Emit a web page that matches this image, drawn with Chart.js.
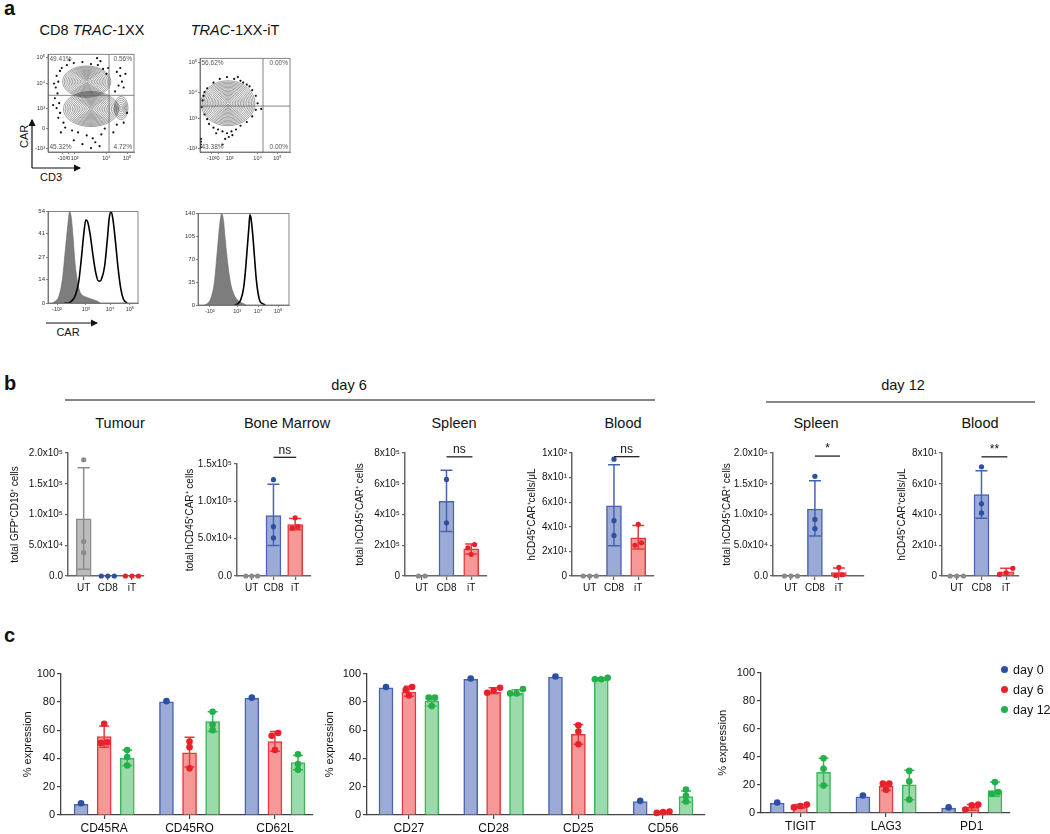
<!DOCTYPE html>
<html lang="en">
<head>
<meta charset="UTF-8">
<title>CAR T figure</title>
<script src="https://cdn.jsdelivr.net/npm/chart.js"></script>
<style>
  body { margin: 0; width: 1050px; height: 834px; background: #fff; position: relative; overflow: hidden;
         font-family: 'Liberation Sans', Arial, sans-serif; color: #111; }
  .t { position: absolute; white-space: nowrap; line-height: 1; }
  .dot { position: absolute; width: 7px; height: 7px; border-radius: 50%; }
</style>
</head>
<body>

<svg width="1050" height="834" style="position:absolute;left:0;top:0">
  <defs>
    <marker id="ah" markerWidth="6" markerHeight="6" refX="5" refY="3" orient="auto">
      <path d="M0,0 L6,3 L0,6 z" fill="#111"/>
    </marker>
  </defs>
  <line x1="32" y1="168" x2="32" y2="120" stroke="#111" stroke-width="1.2" marker-end="url(#ah)"/>
  <line x1="32" y1="168" x2="80" y2="168" stroke="#111" stroke-width="1.2" marker-end="url(#ah)"/>
  <line x1="46" y1="323" x2="97" y2="323" stroke="#111" stroke-width="1.2" marker-end="url(#ah)"/>
  <line x1="65" y1="400" x2="655" y2="400" stroke="#111" stroke-width="1"/>
  <line x1="766" y1="402" x2="1035" y2="402" stroke="#111" stroke-width="1"/>
</svg>

<script>
// ---------- panel a: flow plots ----------
const flow1XTicks = [17, 24, 31, 68, 92];
const flow1XLabels = ['-10³', '0', '10³', '10⁴', '10⁵'];
const flow1YTicks = [4, 24, 45, 70, 97];
const flow1YLabels = ['-10³', '0', '10³', '10⁴', '10⁵'];
const flow1Gate = [71, 58];
const flow1Pct = ['49.41%', '0.56%', '45.32%', '4.72%'];
const flow1Pops = [[45, 72, 28, 16, 15], [50, 44, 32, 18, 16], [85, 45, 8, 12, 6]];
const flow1Dots = [[10,78],[12,72],[9,66],[11,60],[8,55],[13,50],[10,45],[14,40],[12,35],[18,30],[16,86],[22,89],
  [30,91],[40,92],[50,90],[58,89],[64,85],[68,80],[20,25],[28,22],[35,20],[45,17],[52,14],[55,10],[60,6],[62,18],
  [66,24],[80,82],[84,78],[86,72],[82,68],[88,66],[84,86],[90,80],[78,62],[92,40],[88,30],[80,28],[76,20],[50,4],
  [40,8],[30,12],[15,20],[6,48],[25,94],[57,96],[61,93],[14,83],[7,70],[70,86]];

const flow2XTicks = [13, 20, 33, 64, 86];
const flow2XLabels = ['-10³', '0', '10³', '10⁴', '10⁵'];
const flow2YTicks = [4, 36, 63, 96];
const flow2YLabels = ['-10³', '10³', '10⁴', '10⁵'];
const flow2Gate = [70, 49];
const flow2Pct = ['56.62%', '0.00%', '43.38%', '0.00%'];
const flow2Pops = [[31, 52, 30, 24, 17]];
const flow2Dots = [[3,55],[4,60],[2,48],[5,40],[8,35],[10,30],[15,26],[20,24],[25,22],[30,20],[35,22],[40,24],
  [45,28],[52,32],[58,38],[62,45],[64,52],[62,60],[58,66],[52,72],[45,76],[38,78],[30,80],[22,78],[15,74],[8,68],
  [5,64],[68,46],[28,14],[25,8],[32,16],[36,18],[1,8],[1,11],[1,14],[1,5],[42,80],[48,74],[55,70],[18,20]];

// ---------- panel a: histograms ----------
const hist1XTicks = [10, 42, 69, 91];
const hist1XLabels = ['-10²', '10³', '10⁴', '10⁵'];
const hist1YTicks = [0, 14, 27, 41, 54];
const hist1GrayX = [5, 8, 12, 16, 19, 22, 24, 26, 28, 30, 33, 36, 40, 45, 50, 55, 58];
const hist1GrayY = [0, 1, 4, 14, 30, 46, 54, 50, 38, 24, 12, 6, 4, 3, 2, 1, 0];
const hist1LineX = [18, 22, 26, 30, 34, 37, 40, 42, 44, 47, 50, 53, 56, 58, 60, 63, 66, 68, 70, 72, 75, 78, 81, 84, 88];
const hist1LineY = [0, 0, 1, 4, 12, 26, 42, 49, 48, 40, 28, 18, 13, 13, 15, 22, 38, 50, 54, 50, 36, 20, 8, 2, 0];

const hist2XTicks = [13, 43, 66, 88];
const hist2XLabels = ['-10²', '10³', '10⁴', '10⁵'];
const hist2YTicks = [0, 35, 70, 105, 140];
const hist2GrayX = [7, 10, 14, 18, 21, 24, 26, 28, 30, 33, 36, 39, 42, 46, 50, 53];
const hist2GrayY = [0, 2, 10, 35, 80, 125, 140, 130, 100, 60, 32, 18, 10, 5, 2, 0];
const hist2LineX = [40, 44, 47, 50, 52, 54, 56, 57, 58, 60, 62, 64, 66, 68, 71, 74];
const hist2LineY = [0, 2, 8, 25, 50, 85, 120, 138, 135, 110, 75, 40, 18, 6, 2, 0];

// ---------- panel b ----------
const groupLabels = ['UT', 'CD8', 'iT'];

const tumourMeans = [0.93e5, null, null];
const tumourPoints = [[1.89e5, 0.56e5, 0.38e5], [0, 0, 0], [0, 0, 0]];
const tumourErr = [[0.11e5, 1.76e5], null, null];
const tumourTicks = ['0.0', '5.0x10⁴', '1.0x10⁵', '1.5x10⁵', '2.0x10⁵'];

const marrowMeans = [null, 0.81e5, 0.69e5];
const marrowPoints = [[0, 0, 0], [1.29e5, 0.66e5, 0.51e5], [0.78e5, 0.66e5, 0.64e5]];
const marrowErr = [null, [0.41e5, 1.23e5], [0.62e5, 0.77e5]];
const marrowTicks = ['0.0', '5.0x10⁴', '1.0x10⁵', '1.5x10⁵'];

const spleen6Means = [null, 4.85e5, 1.76e5];
const spleen6Points = [[0, 0], [6.28e5, 3.46e5], [2.05e5, 1.83e5, 1.41e5]];
const spleen6Err = [null, [2.9e5, 6.87e5], [1.43e5, 2.08e5]];
const spleen6Ticks = ['0', '2x10⁵', '4x10⁵', '6x10⁵', '8x10⁵'];

const blood6Means = [null, 57, 31];
const blood6Points = [[0, 0, 0], [95, 45, 33], [42, 27, 25]];
const blood6Err = [null, [24.5, 90.4], [22, 41]];
const blood6Ticks = ['0', '2x10¹', '4x10¹', '6x10¹', '8x10¹', '1x10²'];

const spleen12Means = [null, 1.09e5, 0.055e5];
const spleen12Points = [[0, 0, 0], [1.62e5, 0.92e5, 0.77e5], [0.14e5, 0.02e5, 0.01e5]];
const spleen12Err = [null, [0.65e5, 1.55e5], [0, 0.13e5]];
const spleen12Ticks = ['0.0', '5.0x10⁴', '1.0x10⁵', '1.5x10⁵', '2.0x10⁵'];

const blood12Means = [null, 53, 2.7];
const blood12Points = [[0, 0, 0], [71, 47, 41], [5, 2, 1]];
const blood12Err = [null, [37.5, 68.5], [0.5, 5]];
const blood12Ticks = ['0', '2x10¹', '4x10¹', '6x10¹', '8x10¹'];

// ---------- panel c ----------
const memMarkers = ['CD45RA', 'CD45RO', 'CD62L'];
const memDay0 = [7.5, 80, 82.5];
const memDay0Pts = [[8.3], [80.5], [83]];
const memDay6 = [55.5, 44, 52];
const memDay6Pts = [[64.5, 51.5, 51], [52, 48, 33], [58, 56, 46]];
const memDay6Err = [[48, 63], [34, 55], [45, 59]];
const memDay12 = [40, 66, 37];
const memDay12Pts = [[46, 41, 35], [73, 64, 60], [43, 36, 32]];
const memDay12Err = [[35, 46], [59, 73], [32, 42]];

const actMarkers = ['CD27', 'CD28', 'CD25', 'CD56'];
const actDay0 = [90, 96, 97.5, 9.5];
const actDay0Pts = [[90.5], [96.5], [98], [10]];
const actDay6 = [87, 87, 57, 2];
const actDay6Pts = [[90.5, 88.5, 84.5], [90, 88, 86.5], [63.5, 59, 50], [2.5, 1.5, 2]];
const actDay6Err = [[84, 91], [86, 90], [50, 64], [1.5, 2.5]];
const actDay12 = [80.5, 86, 96, 13];
const actDay12Pts = [[83, 83, 77], [89, 86, 86], [97, 96, 96], [18, 13.5, 9.5]];
const actDay12Err = [[77, 84], [85, 88.5], [95.5, 97], [9, 17]];

const exhMarkers = ['TIGIT', 'LAG3', 'PD1'];
const exhDay0 = [7, 11.5, 3.5];
const exhDay0Pts = [[7.5], [12.5], [4]];
const exhDay6 = [4.5, 19, 4];
const exhDay6Pts = [[6, 5, 4], [21, 21, 16.5], [6, 5.5, 2.5]];
const exhDay6Err = [[3.5, 6], [16, 21.5], [2, 6]];
const exhDay12 = [29, 20, 16];
const exhDay12Pts = [[39, 31.5, 19.5], [30, 22.5, 9.5], [22, 15, 13.5]];
const exhDay12Err = [[19.5, 39], [9.5, 30.5], [12, 22]];

const dayLabels = ['day 0', 'day 6', 'day 12'];

// ---------- styles ----------
const FONT = "'Liberation Sans', Arial, sans-serif";
const fillB = ['rgb(188,188,188)', 'rgb(155,170,215)', 'rgb(246,152,152)'];
const lineB = ['#8c8c8c', '#4863b0', '#e8373a'];
const ptB = ['#8a8a8a', '#2b4fa3', '#e8202a'];
const dayFill = ['rgb(155,170,215)', 'rgb(246,152,152)', 'rgb(155,218,170)'];
const dayLine = ['#4863b0', '#e8373a', '#3cb55a'];
const dayPt = ['#2b4fa3', '#e8202a', '#22b04b'];
const GROUP_GAP = 3.7;

Chart.defaults.font.family = FONT;
Chart.defaults.color = '#111';
Chart.defaults.animation = false;
Chart.defaults.events = [];
Chart.defaults.plugins.legend.display = false;
Chart.defaults.plugins.tooltip.enabled = false;

function addCanvas(left, top, w, h) {
  const c = document.createElement('canvas');
  c.width = w; c.height = h;
  c.style.cssText = `position:absolute;left:${left}px;top:${top}px;width:${w}px;height:${h}px`;
  document.body.appendChild(c);
  return c.getContext('2d');
}

function txt(html, x, base, size, opts = {}) {
  const d = document.createElement('div');
  d.className = 't';
  d.innerHTML = html;
  d.style.fontSize = size + 'px';
  d.style.top = (base - 0.845 * size) + 'px';
  d.style.left = x + 'px';
  if (opts.bold) d.style.fontWeight = 'bold';
  if (opts.center) d.style.transform = 'translateX(-50%)';
  document.body.appendChild(d);
  return d;
}

// points with near-equal values sit side by side, like a scatter dot plot
function spread(vals, thr, step) {
  const idx = vals.map((v, i) => i).sort((a, b) => vals[a] - vals[b]);
  const offs = vals.map(() => 0);
  let cur = [idx[0]];
  const flush = () => cur.forEach((k, j) => { offs[k] = (j - (cur.length - 1) / 2) * step; });
  for (let k = 1; k < idx.length; k++) {
    if (vals[idx[k]] - vals[idx[k - 1]] < thr) cur.push(idx[k]);
    else { flush(); cur = [idx[k]]; }
  }
  flush();
  return offs;
}

// ---------- plugins ----------
const errorBars = {
  id: 'errorBars',
  afterDatasetDraw(chart, args, opts) {
    const ds = chart.data.datasets[args.index];
    if (!ds.err) return;
    const { ctx, scales: { x, y } } = chart;
    const c = opts.cap / 2;
    ctx.save();
    ctx.lineWidth = 1.5;
    ds.err.forEach((e, i) => {
      if (!e) return;
      const px = x.getPixelForValue(ds.data[i].x);
      const lo = y.getPixelForValue(e[0]), hi = y.getPixelForValue(e[1]);
      ctx.strokeStyle = Array.isArray(ds.borderColor) ? ds.borderColor[i] : ds.borderColor;
      ctx.beginPath();
      ctx.moveTo(px, lo); ctx.lineTo(px, hi);
      ctx.moveTo(px - c, hi); ctx.lineTo(px + c, hi);
      ctx.moveTo(px - c, lo); ctx.lineTo(px + c, lo);
      ctx.stroke();
    });
    ctx.restore();
  }
};

const sigBracket = {
  id: 'sig',
  afterDraw(chart, args, opts) {
    if (!opts.text) return;
    const { ctx, scales: { x, y } } = chart;
    const x1 = x.getPixelForValue(1), x2 = x.getPixelForValue(2.05), py = y.getPixelForValue(opts.y);
    ctx.save();
    ctx.strokeStyle = '#111'; ctx.lineWidth = 1.2;
    ctx.beginPath(); ctx.moveTo(x1, py); ctx.lineTo(x2, py); ctx.stroke();
    ctx.fillStyle = '#111';
    ctx.font = `12px ${FONT}`;
    ctx.textAlign = 'center'; ctx.textBaseline = 'bottom';
    ctx.fillText(opts.text, (x1 + x2) / 2, py - 1);
    ctx.restore();
  }
};

const flowDecor = {
  id: 'flowDecor',
  beforeDatasetsDraw(chart, args, o) {
    if (!o.pops) return;
    const { ctx, scales: { x, y }, chartArea: a } = chart;
    ctx.save();
    ctx.beginPath(); ctx.rect(a.left, a.top, a.width, a.height); ctx.clip();
    ctx.strokeStyle = 'rgba(40,40,40,0.8)'; ctx.lineWidth = 0.55;
    o.pops.forEach(([cx, cy, rx, ry, n]) => {
      const px = x.getPixelForValue(cx), py = y.getPixelForValue(cy);
      const sx = Math.abs(x.getPixelForValue(cx + rx) - px), sy = Math.abs(y.getPixelForValue(cy + ry) - py);
      for (let k = 1; k <= n; k++) {
        const f = k / n;
        ctx.beginPath(); ctx.ellipse(px, py, sx * f, sy * f, 0, 0, Math.PI * 2); ctx.stroke();
      }
    });
    ctx.restore();
  },
  afterDatasetsDraw(chart, args, o) {
    const { ctx, scales: { x, y }, chartArea: a } = chart;
    ctx.save();
    ctx.strokeStyle = '#666'; ctx.lineWidth = 0.8;
    ctx.strokeRect(a.left, a.top, a.width, a.height);
    if (o.gate) {
      const gx = x.getPixelForValue(o.gate[0]), gy = y.getPixelForValue(o.gate[1]);
      ctx.beginPath();
      ctx.moveTo(gx, a.top); ctx.lineTo(gx, a.bottom);
      ctx.moveTo(a.left, gy); ctx.lineTo(a.right, gy);
      ctx.stroke();
      ctx.fillStyle = '#555';
      ctx.font = `6.5px ${FONT}`;
      ctx.textBaseline = 'top'; ctx.textAlign = 'left';
      ctx.fillText(o.pct[0], a.left + 1.5, a.top + 2);
      ctx.textAlign = 'right';
      ctx.fillText(o.pct[1], a.right - 2, a.top + 2);
      ctx.textBaseline = 'bottom'; ctx.textAlign = 'left';
      ctx.fillText(o.pct[2], a.left + 1.5, a.bottom - 2);
      ctx.textAlign = 'right';
      ctx.fillText(o.pct[3], a.right - 2, a.bottom - 2);
    }
    ctx.restore();
  }
};

// ---------- panel a builders ----------
function smallAxis(ticks, labels, max, size) {
  return {
    type: 'linear', min: 0, max: max, bounds: 'data', offset: false,
    afterBuildTicks: s => { s.ticks = ticks.map(v => ({ value: v })); },
    afterFit: s => { if (s.isHorizontal()) s.height = size; else s.width = size; },
    ticks: { autoSkip: false, maxRotation: 0, padding: 1, font: { size: 5.5 }, color: '#333',
             callback: (v, i) => labels[i] },
    grid: { display: true, drawOnChartArea: false, tickLength: 2, color: '#666', lineWidth: 0.8, offset: false },
    border: { display: true, color: '#666', width: 0.8 }
  };
}

function flowPlot(o) {
  const yw = 16, xh = 12, pt = 3, pr = 3;
  const ctx = addCanvas(o.left - yw, o.top - pt, yw + o.w + pr, pt + o.h + xh);
  new Chart(ctx, {
    type: 'scatter',
    data: { datasets: [{ data: o.dots.map(([x, y]) => ({ x, y })), pointRadius: 1.1,
                         pointBackgroundColor: '#111', pointBorderWidth: 0 }] },
    options: {
      responsive: false,
      layout: { padding: { top: pt, right: pr, left: 0, bottom: 0 } },
      scales: { x: smallAxis(o.xt, o.xl, 100, xh), y: smallAxis(o.yt, o.yl, 100, yw) },
      plugins: { flowDecor: { pops: o.pops, gate: o.gate, pct: o.pct } }
    },
    plugins: [flowDecor]
  });
}

function histPlot(o) {
  const yw = 16, xh = 12, pt = 3, pr = 3;
  const ctx = addCanvas(o.left - yw, o.top - pt, yw + o.w + pr, pt + o.h + xh);
  const yMax = o.yt[o.yt.length - 1];
  new Chart(ctx, {
    type: 'line',
    data: { datasets: [
      { order: 0, data: o.lineX.map((x, i) => ({ x, y: o.lineY[i] })), borderColor: '#000', borderWidth: 1.6,
        pointRadius: 0, fill: false, cubicInterpolationMode: 'monotone' },
      { order: 1, data: o.grayX.map((x, i) => ({ x, y: o.grayY[i] })), borderColor: '#6a6a6a', borderWidth: 0.6,
        backgroundColor: '#7d7d7d', pointRadius: 0, fill: 'origin', cubicInterpolationMode: 'monotone' }
    ] },
    options: {
      responsive: false,
      layout: { padding: { top: pt, right: pr, left: 0, bottom: 0 } },
      scales: {
        x: smallAxis(o.xt, o.xl, 100, xh),
        y: Object.assign(smallAxis(o.yt, o.yt.map(String), yMax, yw), { ticks: { autoSkip: false, padding: 1,
             font: { size: 6 }, color: '#333', callback: (v, i) => String(o.yt[i]) } })
      },
      plugins: { flowDecor: {} }
    },
    plugins: [flowDecor]
  });
}

// ---------- panel b builder ----------
function panelB(p) {
  const padTop = 30, xh = 22, padR = 3;
  const w = p.yw + (p.endX - p.axisX) + padR;
  const h = padTop + (p.zeroY - p.topY) + xh;
  const ctx = addCanvas(p.axisX - p.yw, p.topY - padTop, w, h);
  const datasets = [];
  p.points.forEach((vals, g) => {
    const offs = spread(vals, p.yMax * 0.05, 0.27);
    datasets.push({ type: 'scatter', order: 0, clip: false,
      data: vals.map((v, i) => ({ x: g + offs[i], y: v })),
      pointRadius: 2.6, pointBackgroundColor: ptB[g], pointBorderWidth: 0 });
  });
  datasets.push({ type: 'bar', order: 1, grouped: false, barThickness: 15,
    data: p.means.map((m, g) => ({ x: g, y: m })), err: p.err,
    backgroundColor: fillB, borderColor: lineB, borderWidth: 1.5 });
  const axisCol = '#666';
  new Chart(ctx, {
    type: 'bar',
    data: { datasets },
    options: {
      responsive: false,
      layout: { padding: { top: padTop, right: padR, left: 0, bottom: 0 } },
      scales: {
        x: { type: 'linear', min: p.xMin, max: p.xMax, bounds: 'data', offset: false,
             afterBuildTicks: s => { s.ticks = [0, 1, 2].map(v => ({ value: v })); },
             afterFit: s => { s.height = xh; },
             ticks: { autoSkip: false, maxRotation: 0, padding: 2, font: { size: 10 }, callback: (v, i) => groupLabels[i] },
             grid: { display: true, drawOnChartArea: false, tickLength: 4, color: axisCol, lineWidth: 1.2, offset: false },
             border: { display: true, color: axisCol, width: 1.5 } },
        y: { type: 'linear', min: 0, max: p.yMax, bounds: 'data',
             afterBuildTicks: s => { s.ticks = p.ticks.map((t, i) => ({ value: i * p.yMax / (p.ticks.length - 1) })); },
             afterFit: s => { s.width = p.yw; },
             ticks: { padding: 2, font: { size: 10 }, callback: (v, i) => p.ticks[i] },
             title: { display: true, text: p.title, font: { size: 10 }, padding: { top: 4, bottom: 0 } },
             grid: { display: true, drawOnChartArea: false, tickLength: 3, color: axisCol, lineWidth: 1.2 },
             border: { display: true, color: axisCol, width: 1.5 } }
      },
      plugins: { errorBars: { cap: 12 }, sig: p.sig ? { y: p.sig[0], text: p.sig[1] } : { text: '' } }
    },
    plugins: [errorBars, sigBracket]
  });
}

// ---------- panel c builder ----------
function panelC(p) {
  const padTop = 8, xh = 22, padR = 4;
  const w = p.yw + (p.endX - p.axisX) + padR;
  const h = padTop + (p.zeroY - p.topY) + xh;
  const ctx = addCanvas(p.axisX - p.yw, p.topY - padTop, w, h);
  const centers = p.markers.map((m, g) => g * GROUP_GAP);
  const datasets = [];
  p.days.forEach(([means, pts, err], d) => {
    const data = [];
    pts.forEach((vals, g) => {
      const offs = spread(vals, 4, 0.28);
      vals.forEach((v, i) => data.push({ x: centers[g] + d - 1 + offs[i], y: v }));
    });
    datasets.push({ type: 'scatter', order: 0, clip: false, data,
      pointRadius: 3.3, pointBackgroundColor: dayPt[d], pointBorderWidth: 0 });
    datasets.push({ type: 'bar', order: 1, grouped: false, barThickness: 14,
      data: means.map((m, g) => ({ x: centers[g] + d - 1, y: m })), err,
      backgroundColor: dayFill[d], borderColor: dayLine[d], borderWidth: 1.5 });
  });
  const axisCol = '#444';
  new Chart(ctx, {
    type: 'bar',
    data: { datasets },
    options: {
      responsive: false,
      layout: { padding: { top: padTop, right: padR, left: 0, bottom: 0 } },
      scales: {
        x: { type: 'linear', min: p.xMin, max: p.xMax, bounds: 'data', offset: false,
             afterBuildTicks: s => { s.ticks = centers.map(v => ({ value: v })); },
             afterFit: s => { s.height = xh; },
             ticks: { autoSkip: false, maxRotation: 0, padding: 2, font: { size: 12 }, callback: (v, i) => p.markers[i] },
             grid: { display: true, drawOnChartArea: false, tickLength: 4, color: axisCol, lineWidth: 1.2, offset: false },
             border: { display: true, color: axisCol, width: 1.3 } },
        y: { type: 'linear', min: 0, max: 100, bounds: 'data',
             ticks: { stepSize: 20, padding: 2, font: { size: 11 } },
             afterFit: s => { s.width = p.yw; },
             title: { display: true, text: '% expression', font: { size: 11 }, padding: { top: 4, bottom: 0 } },
             grid: { display: true, drawOnChartArea: false, tickLength: 4, color: axisCol, lineWidth: 1.2 },
             border: { display: true, color: axisCol, width: 1.3 } }
      },
      plugins: { errorBars: { cap: 10 } }
    },
    plugins: [errorBars]
  });
}

// ---------- panel a ----------
txt('a', 4, 15, 20, { bold: true });
txt('CD8 <i>TRAC</i>-1XX', 92, 35, 14.5, { center: true });
txt('<i>TRAC</i>-1XX-iT', 235, 35, 14.5, { center: true });
const car = txt('CAR', 23, 141, 11, {});
car.style.transform = 'translate(-50%,0) rotate(-90deg)';
car.style.transformOrigin = '50% 40%';
txt('CD3', 40, 181, 11);
txt('CAR', 68, 336, 11, { center: true });

flowPlot({ left: 48, top: 53, w: 87, h: 99, xt: flow1XTicks, xl: flow1XLabels, yt: flow1YTicks, yl: flow1YLabels,
           gate: flow1Gate, pct: flow1Pct, pops: flow1Pops, dots: flow1Dots });
flowPlot({ left: 200, top: 57, w: 91, h: 95, xt: flow2XTicks, xl: flow2XLabels, yt: flow2YTicks, yl: flow2YLabels,
           gate: flow2Gate, pct: flow2Pct, pops: flow2Pops, dots: flow2Dots });
histPlot({ left: 48, top: 210, w: 90, h: 93, xt: hist1XTicks, xl: hist1XLabels, yt: hist1YTicks,
           grayX: hist1GrayX, grayY: hist1GrayY, lineX: hist1LineX, lineY: hist1LineY });
histPlot({ left: 198, top: 212, w: 91, h: 93, xt: hist2XTicks, xl: hist2XLabels, yt: hist2YTicks,
           grayX: hist2GrayX, grayY: hist2GrayY, lineX: hist2LineX, lineY: hist2LineY });

// ---------- panel b ----------
txt('b', 4, 390, 20, { bold: true });
txt('day 6', 349, 390, 14.5, { center: true });
txt('day 12', 903, 390, 14.5, { center: true });
[['Tumour', 120], ['Bone Marrow', 287], ['Spleen', 454], ['Blood', 623], ['Spleen', 816], ['Blood', 980]]
  .forEach(([s, x]) => txt(s, x, 428, 14.5, { center: true }));

const cellsTitle = 'total hCD45⁺CAR⁺ cells';
const bloodTitle = 'hCD45⁺CAR⁺cells/μL';
panelB({ axisX: 68, endX: 145, topY: 453, zeroY: 576, yw: 63, xMin: -0.65, xMax: 2.5, yMax: 2e5,
         ticks: tumourTicks, title: 'total GFP⁺CD19⁺ cells', means: tumourMeans, points: tumourPoints, err: tumourErr });
panelB({ axisX: 237, endX: 312, topY: 464, zeroY: 576, yw: 57, xMin: -0.68, xMax: 2.73, yMax: 1.5e5,
         ticks: marrowTicks, title: cellsTitle, means: marrowMeans, points: marrowPoints, err: marrowErr, sig: [1.59e5, 'ns'] });
panelB({ axisX: 405, endX: 488, topY: 453, zeroY: 576, yw: 55, xMin: -0.68, xMax: 2.64, yMax: 8e5,
         ticks: spleen6Ticks, title: cellsTitle, means: spleen6Means, points: spleen6Points, err: spleen6Err, sig: [7.75e5, 'ns'] });
panelB({ axisX: 572, endX: 655, topY: 453, zeroY: 576, yw: 50, xMin: -0.73, xMax: 2.65, yMax: 100,
         ticks: blood6Ticks, title: bloodTitle, means: blood6Means, points: blood6Points, err: blood6Err, sig: [97, 'ns'] });
panelB({ axisX: 773, endX: 865, topY: 453, zeroY: 576, yw: 56, xMin: -0.75, xMax: 3.05, yMax: 2e5,
         ticks: spleen12Ticks, title: cellsTitle, means: spleen12Means, points: spleen12Points, err: spleen12Err, sig: [1.95e5, '*'] });
panelB({ axisX: 942, endX: 1020, topY: 453, zeroY: 576, yw: 50, xMin: -0.6, xMax: 2.52, yMax: 80,
         ticks: blood12Ticks, title: bloodTitle, means: blood12Means, points: blood12Points, err: blood12Err, sig: [77.5, '**'] });

// ---------- panel c ----------
txt('c', 4, 642, 20, { bold: true });
panelC({ axisX: 61, endX: 313, topY: 673, zeroY: 815, yw: 44, xMin: -1.87, xMax: 9.05, markers: memMarkers,
         days: [[memDay0, memDay0Pts, null], [memDay6, memDay6Pts, memDay6Err], [memDay12, memDay12Pts, memDay12Err]] });
panelC({ axisX: 367, endX: 705, topY: 673, zeroY: 815, yw: 48, xMin: -1.83, xMax: 12.93, markers: actMarkers,
         days: [[actDay0, actDay0Pts, null], [actDay6, actDay6Pts, actDay6Err], [actDay12, actDay12Pts, actDay12Err]] });
panelC({ axisX: 761, endX: 1010, topY: 672, zeroY: 813, yw: 49, xMin: -1.7, xMax: 9.05, markers: exhMarkers,
         days: [[exhDay0, exhDay0Pts, null], [exhDay6, exhDay6Pts, exhDay6Err], [exhDay12, exhDay12Pts, exhDay12Err]] });

// legend
dayLabels.forEach((s, d) => {
  const dot = document.createElement('div');
  dot.className = 'dot';
  dot.style.background = dayPt[d];
  dot.style.left = '1001px';
  dot.style.top = (666 + d * 20) + 'px';
  document.body.appendChild(dot);
  txt(s, 1013, 675 + d * 20, 12.5);
});
</script>
</body>
</html>
